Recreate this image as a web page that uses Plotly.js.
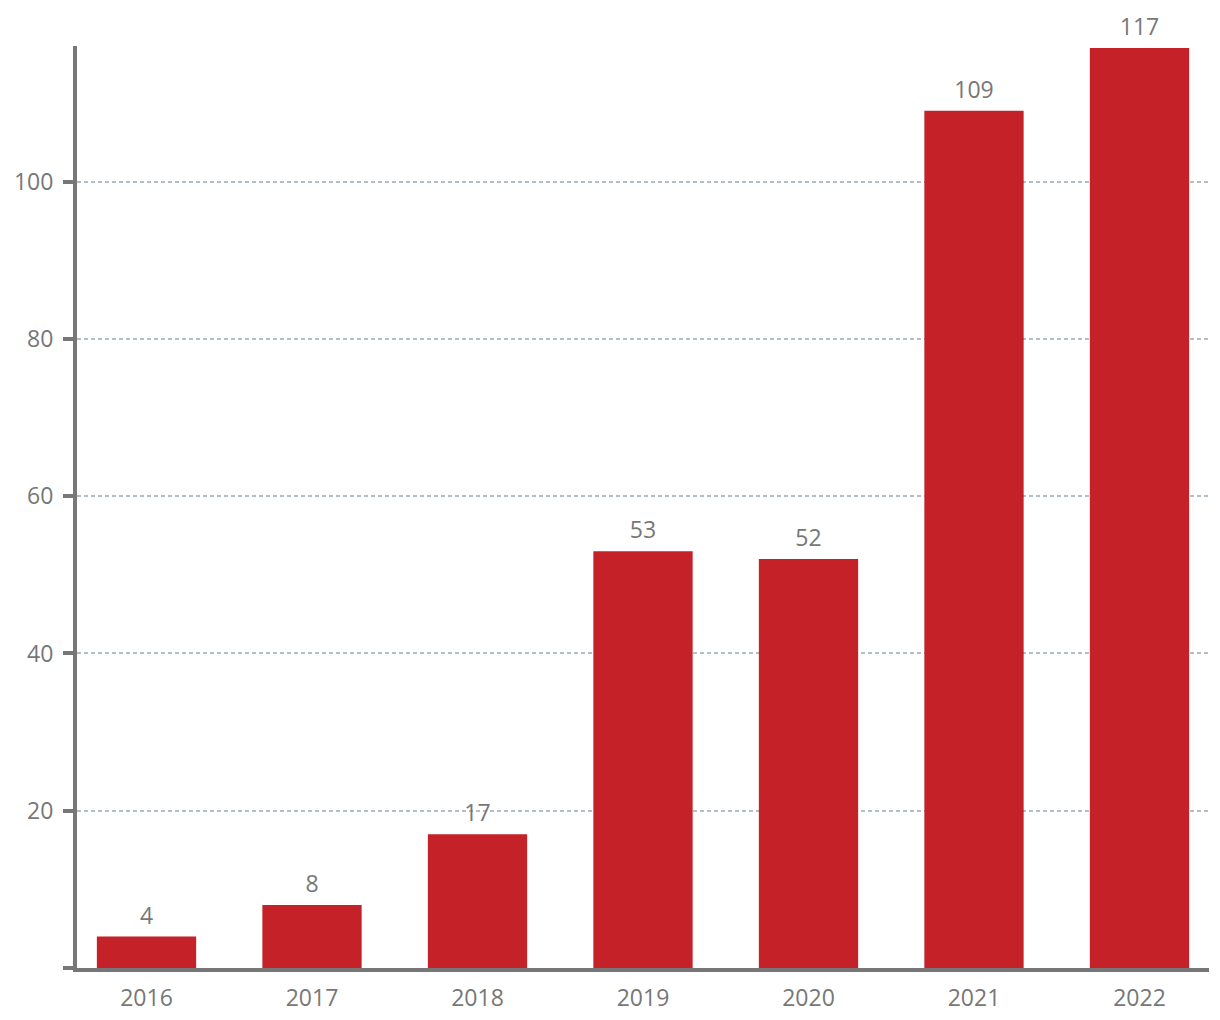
<!DOCTYPE html>
<html>
<head>
<meta charset="utf-8">
<script src="https://cdn.plot.ly/plotly-3.0.1.min.js"></script>
<style>
  html, body { margin: 0; padding: 0; background: #fff; }
  #chart { width: 1220px; height: 1020px; }
</style>
</head>
<body>
<div id="chart"></div>
<script>
const years = ["2016", "2017", "2018", "2019", "2020", "2021", "2022"];
const counts = [4, 8, 17, 53, 52, 109, 117];
const yTickVals = [0, 20, 40, 60, 80, 100];
const yTickText = ["", "20", "40", "60", "80", "100"];

const barColor = "#c42128";
const axisGray = "#777777";
const fontFamily = "Open Sans, sans-serif";

const barTrace = {
  x: years,
  y: counts,
  type: "bar",
  marker: { color: barColor },
  hoverinfo: "x+y",
};

// value labels: invisible markers sitting on the bar tops, text above them
const labelTrace = {
  x: years,
  y: counts,
  type: "scatter",
  mode: "markers+text",
  marker: { size: 10, color: "rgba(0,0,0,0)" },
  text: counts.map(String),
  textposition: "top center",
  textfont: { family: fontFamily, size: 23, color: axisGray },
  cliponaxis: false,
  hoverinfo: "skip",
};

const layout = {
  width: 1220,
  height: 1020,
  margin: { l: 77, r: 11, t: 46, b: 52 },
  paper_bgcolor: "#ffffff",
  plot_bgcolor: "#ffffff",
  bargap: 0.4,
  showlegend: false,
  xaxis: {
    type: "category",
    range: [-0.42, 6.42],
    showline: true,
    linecolor: axisGray,
    linewidth: 4,
    showgrid: false,
    ticks: "",
    tickfont: { family: fontFamily, size: 23, color: axisGray },
    ticklabelstandoff: 6,
    fixedrange: true,
  },
  yaxis: {
    range: [0, 117.25],
    tickvals: yTickVals,
    ticktext: yTickText,
    showline: true,
    linecolor: axisGray,
    linewidth: 4,
    ticks: "outside",
    ticklen: 10,
    tickwidth: 4,
    tickcolor: axisGray,
    showgrid: true,
    gridcolor: "#b3bec6",
    gridwidth: 1.5,
    griddash: "4px,3px",
    zeroline: false,
    tickfont: { family: fontFamily, size: 23, color: axisGray },
    ticklabelstandoff: 5,
    fixedrange: true,
  },
};

Plotly.newPlot("chart", [barTrace, labelTrace], layout, { displayModeBar: false });
</script>
</body>
</html>
